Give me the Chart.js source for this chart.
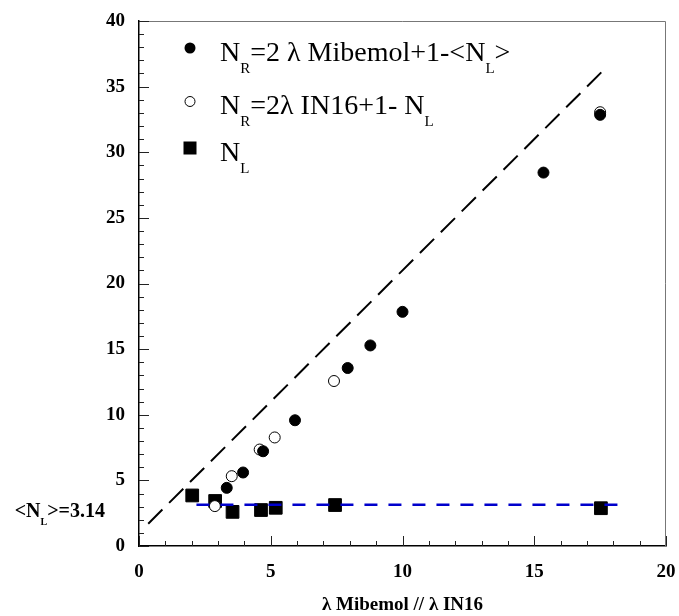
<!DOCTYPE html>
<html>
<head>
<meta charset="utf-8">
<script src="https://cdn.jsdelivr.net/npm/chart.js"></script>
<style>
  html, body { margin: 0; background: #fff; }
</style>
</head>
<body>
<canvas id="chart" width="679" height="616"></canvas>
<script>
// N_R = 2 λ Mibemol + 1 - <N_L>
const mibemolX = [3.33, 3.95, 4.71, 5.92, 7.92, 8.78, 10.0, 15.35, 17.5];
const mibemolY = [4.43, 5.6, 7.22, 9.58, 13.56, 15.28, 17.84, 28.45, 32.85];

// N_R = 2λ IN16 + 1 - N_L
const in16X = [2.88, 3.52, 4.58, 5.15, 7.4, 17.5];
const in16Y = [3.04, 5.32, 7.35, 8.27, 12.57, 33.05];

// N_L
const nlX = [2.02, 2.89, 3.55, 4.63, 5.19, 7.44, 17.53];
const nlY = [3.85, 3.43, 2.6, 2.74, 2.91, 3.12, 2.88];

// dashed guide lines
const guideX = [0.35, 17.55];
const guideY = [1.7, 36.1];
const meanX = [2.18, 18.2];
const meanY = [3.14, 3.14];
const meanValue = "3.14";

const xTicks = [0, 5, 10, 15, 20];
const yTicks = [0, 5, 10, 15, 20, 25, 30, 35, 40];

const SERIF = '"Liberation Serif", "Times New Roman", serif';

function pts(xs, ys) {
    return xs.map((x, i) => ({ x: x, y: ys[i] }));
}

function drawRich(ctx, x, y, parts, size, bold) {
    const w = bold ? "bold " : "";
    ctx.textAlign = "left";
    ctx.textBaseline = "alphabetic";
    parts.forEach(p => {
        if (p.sub) {
            ctx.font = w + Math.round(size * 0.52) + "px " + SERIF;
            ctx.fillText(p.t, x, y + size * 0.43);
        } else {
            ctx.font = w + size + "px " + SERIF;
            ctx.fillText(p.t, x, y);
        }
        x += ctx.measureText(p.t).width;
    });
    return x;
}

function richWidth(ctx, parts, size, bold) {
    const w = bold ? "bold " : "";
    let total = 0;
    parts.forEach(p => {
        ctx.font = w + (p.sub ? Math.round(size * 0.52) : size) + "px " + SERIF;
        total += ctx.measureText(p.t).width;
    });
    return total;
}

// ticks inside the frame, frame top/right, legend and the <N_L> label
const decorations = {
    id: "decorations",
    afterDatasetsDraw(chart) {
        const ctx = chart.ctx;
        const a = chart.chartArea;
        const xs = chart.scales.x;
        const ys = chart.scales.y;
        ctx.save();

        ctx.strokeStyle = "#777";
        ctx.lineWidth = 1;
        ctx.beginPath();
        ctx.moveTo(a.left, a.top + 0.5);
        ctx.lineTo(a.right - 0.5, a.top + 0.5);
        ctx.lineTo(a.right - 0.5, a.bottom);
        ctx.stroke();

        ctx.strokeStyle = "#222";
        ctx.beginPath();
        for (let v = 0; v <= 20; v++) {
            const px = Math.round(xs.getPixelForValue(v)) + 0.5;
            const len = v % 5 === 0 ? 10 : 5;
            ctx.moveTo(px, a.bottom);
            ctx.lineTo(px, a.bottom - len);
        }
        for (let v = 0; v <= 40; v++) {
            const py = Math.round(ys.getPixelForValue(v)) + 0.5;
            const len = v % 5 === 0 ? 10 : 5;
            ctx.moveTo(a.left, py);
            ctx.lineTo(a.left + len, py);
        }
        ctx.stroke();

        // legend
        ctx.fillStyle = "#000";
        ctx.strokeStyle = "#000";
        const mx = 190;
        ctx.beginPath();
        ctx.arc(mx, 48, 5.5, 0, Math.PI * 2);
        ctx.fill();
        ctx.beginPath();
        ctx.arc(mx, 101.5, 5, 0, Math.PI * 2);
        ctx.fillStyle = "#fff";
        ctx.fill();
        ctx.lineWidth = 1;
        ctx.stroke();
        ctx.fillStyle = "#000";
        ctx.fillRect(mx - 6.5, 141.5, 13, 13);

        const tx = 220;
        drawRich(ctx, tx, 61, [
            { t: "N" }, { t: "R", sub: true }, { t: "=2 \u03bb Mibemol+1-<N" }, { t: "L", sub: true }, { t: ">" }
        ], 28, false);
        drawRich(ctx, tx, 114, [
            { t: "N" }, { t: "R", sub: true }, { t: "=2\u03bb IN16+1- N" }, { t: "L", sub: true }
        ], 28, false);
        drawRich(ctx, tx, 161, [
            { t: "N" }, { t: "L", sub: true }
        ], 28, false);

        // <N_L>=3.14 beside the y axis
        const lbl = [{ t: "<N" }, { t: "L", sub: true }, { t: ">=" + meanValue }];
        const lw = richWidth(ctx, lbl, 20, true);
        const ly = ys.getPixelForValue(meanY[0]) + 12;
        drawRich(ctx, 105 - lw, ly, lbl, 20, true);

        ctx.restore();
    }
};

new Chart(document.getElementById("chart"), {
    type: "scatter",
    data: {
        datasets: [
            {
                label: "<N_L>",
                type: "line",
                data: pts(meanX, meanY),
                borderColor: "#0000cc",
                borderWidth: 2.5,
                borderDash: [13, 11],
                pointRadius: 0,
                fill: false,
                order: 0
            },
            {
                label: "N_R=2 λ Mibemol+1-<N_L>",
                data: pts(mibemolX, mibemolY),
                backgroundColor: "#000",
                borderColor: "#000",
                borderWidth: 1,
                pointRadius: 5.5,
                order: 1
            },
            {
                label: "N_R=2λ IN16+1- N_L",
                data: pts(in16X, in16Y),
                backgroundColor: "#fff",
                borderColor: "#000",
                borderWidth: 1,
                pointRadius: 5.5,
                order: 2
            },
            {
                label: "N_L",
                data: pts(nlX, nlY),
                pointStyle: "rect",
                backgroundColor: "#000",
                borderColor: "#000",
                borderWidth: 1,
                pointRadius: 9,
                order: 3
            },
            {
                label: "2x+1",
                type: "line",
                data: pts(guideX, guideY),
                borderColor: "#000",
                borderWidth: 2,
                borderDash: [20, 9.5],
                pointRadius: 0,
                fill: false,
                order: 4
            }
        ]
    },
    options: {
        responsive: false,
        animation: false,
        devicePixelRatio: 1,
        layout: { padding: { left: 0, right: 13, top: 21, bottom: 0 } },
        plugins: {
            legend: { display: false },
            tooltip: { enabled: false }
        },
        scales: {
            x: {
                type: "linear",
                min: 0,
                max: 20,
                afterFit(scale) {
                    scale.height = 70;
                    scale.paddingLeft = 0;
                    scale.paddingRight = 0;
                },
                grid: { display: false, drawTicks: false },
                border: { display: true, color: "#000", width: 1.5 },
                ticks: {
                    stepSize: 1,
                    autoSkip: false,
                    maxRotation: 0,
                    padding: 15,
                    color: "#000",
                    font: { family: SERIF, size: 19, weight: "bold" },
                    callback: v => xTicks.includes(v) ? String(v) : ""
                },
                title: {
                    display: true,
                    text: "\u03bb Mibemol // \u03bb IN16",
                    color: "#000",
                    font: { family: SERIF, size: 19, weight: "bold" },
                    padding: { top: 0, bottom: 0 }
                }
            },
            y: {
                type: "linear",
                min: 0,
                max: 40,
                afterFit(scale) {
                    scale.width = 139;
                    scale.paddingTop = 0;
                    scale.paddingBottom = 0;
                },
                grid: { display: false, drawTicks: false },
                border: { display: true, color: "#000", width: 1.5 },
                ticks: {
                    stepSize: 1,
                    autoSkip: false,
                    padding: 14,
                    color: "#000",
                    font: { family: SERIF, size: 19, weight: "bold" },
                    callback: v => yTicks.includes(v) ? String(v) : ""
                }
            }
        }
    },
    plugins: [decorations]
});
</script>
</body>
</html>
